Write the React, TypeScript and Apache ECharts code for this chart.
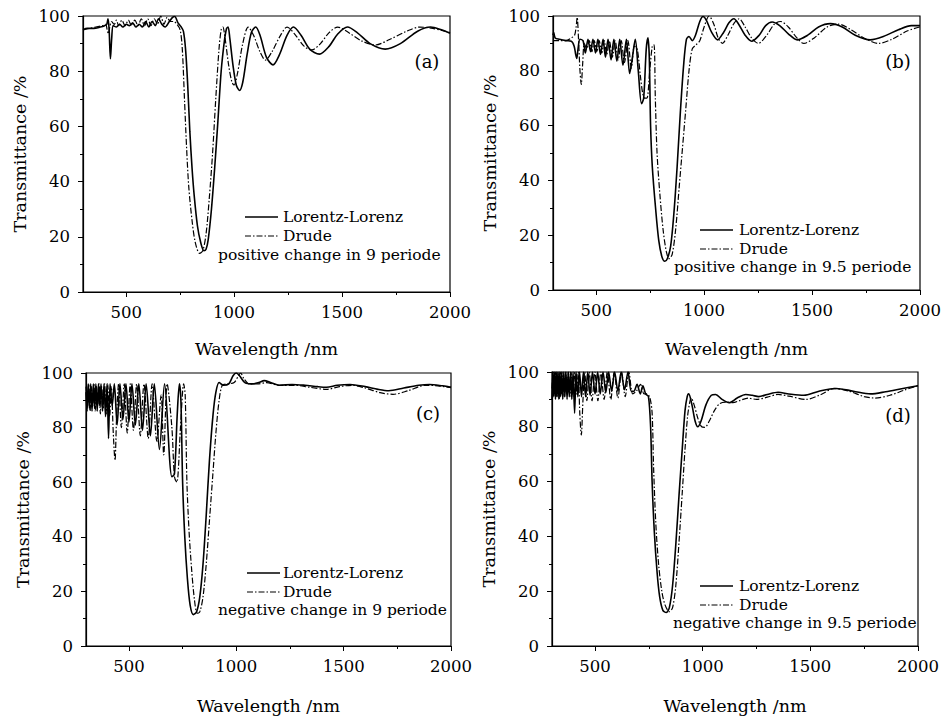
import React, { useEffect, useRef } from "react";
import * as echarts from "echarts";

const xTickValues = [500, 1000, 1500, 2000];
const xMinorTickValues = [750, 1250, 1750];
const panelLabels = ["(a)", "(b)", "(c)", "(d)"];
const captions = [
  "positive change in 9 periode",
  "positive change in 9.5 periode",
  "negative change in 9 periode",
  "negative change in 9.5 periode",
];
const seriesNames = ["Lorentz-Lorenz", "Drude"];

const aLorentz = [[300,95],[320,95.5],[350,95.5],[380,96],[400,96.5],[410,97],[416,99],[421,95],[427,84.5],[433,92],[440,96.5],[455,96],[470,97],[485,96],[500,97],[515,96.5],[530,97.5],[545,96],[560,97],[575,96],[590,98],[605,96],[620,98],[635,96.5],[650,99],[665,97],[680,96],[700,98],[715,99.5],[725,99.8],[740,97.5],[755,96],[765,94.5],[775,88],[785,75],[795,58],[805,45],[815,35],[830,24],[845,18],[860,15],[870,15.5],[880,19],[895,30],[910,45],[925,62],[940,80],[955,91],[965,95.5],[972,96],[980,92],[995,82],[1010,75],[1025,73],[1040,76],[1060,86],[1080,94],[1100,96],[1120,93],[1150,85],[1180,82.3],[1210,86],[1245,93],[1275,96],[1310,93],[1350,88],[1395,86.2],[1440,89],[1480,93.5],[1525,96],[1570,94],[1630,90],[1700,88],[1770,90],[1850,94.5],[1910,96],[1960,95],[2000,93.7]];
const aDrude = [[300,95],[330,95.5],[360,96],[390,96.5],[405,97],[412,95],[418,93.5],[424,96],[432,98],[445,97],[455,98.5],[465,96.5],[480,98.5],[495,96.5],[510,98.5],[525,96.5],[540,98.5],[555,96.5],[570,99],[585,96.5],[600,99],[615,96.5],[630,99],[645,97],[660,100],[675,97],[690,99.5],[705,98],[720,98],[735,97],[750,95],[760,88],[770,70],[780,52],[790,38],[805,26],[820,18],[840,14],[855,15],[870,21],[885,34],[900,50],[915,70],[930,88],[940,95],[948,96],[958,92],[975,82],[990,76],[1000,75],[1015,79],[1040,90],[1065,96],[1090,93],[1120,87],[1145,84],[1175,87],[1215,93],[1245,96],[1285,93],[1325,89],[1360,87.7],[1400,90],[1440,94],[1480,96],[1530,94],[1590,91],[1655,89.5],[1720,91.5],[1800,94.5],[1860,96],[1920,95.5],[2000,94]];

const bLorentz = [[300,93],[303,94],[310,92],[330,91.5],[360,91],[385,90.8],[398,89],[405,86],[410,84.5],[416,88],[425,91.5],[439,91],[450,86.5],[462,91.5],[474,87],[485,91.5],[497,86.5],[508,91.5],[520,86],[532,91.5],[543,85],[555,91.5],[569,84],[582,91.5],[596,83.5],[609,91.5],[624,82],[640,91.5],[655,79],[668,85],[681,91.5],[695,80],[710,68],[720,70],[732,88],[740,92],[746,85],[752,60],[760,45],[775,30],[790,18],[805,12],[818,10.5],[830,11.5],[845,16],[860,28],[875,45],[890,65],[905,82],[918,91.5],[930,92.5],[945,91],[960,93],[980,98],[995,99.8],[1010,98.5],[1035,94],[1062,91.3],[1090,94],[1115,97.5],[1138,99],[1160,97],[1190,93],[1220,90.8],[1255,93],[1285,96.5],[1315,97.8],[1350,96.5],[1390,93.5],[1431,91.3],[1480,93],[1530,96],[1585,97.2],[1640,96],[1700,93],[1769,91.3],[1830,92.5],[1900,95],[1960,96.5],[2000,96.5]];
const bDrude = [[300,91],[330,91],[360,91],[385,92],[400,93],[407,96],[412,99.5],[418,92],[425,80],[431,75],[437,82],[445,90],[456,88],[468,91],[480,87],[491,91],[503,87],[514,91],[526,86.5],[537,91],[549,86],[561,91],[575,85],[588,91],[602,84],[616,91],[631,83],[647,91],[663,81],[677,89],[690,88],[705,78],[715,72],[725,70],[735,70],[748,80],[760,89],[768,89.5],[774,70],[782,50],[795,35],[810,22],[825,14],[838,11.4],[852,13],[868,22],[885,38],[900,52],[915,66],[930,80],[945,88],[963,89.5],[980,91],[1000,96],[1023,100],[1045,97],[1065,92],[1085,90],[1110,93],[1140,97.5],[1162,99],[1190,96],[1220,92],[1251,90],[1290,93],[1325,97],[1354,98],[1390,96],[1430,92],[1462,90],[1510,92],[1570,96],[1623,97],[1680,95],[1740,92],[1808,90],[1870,91.5],[1940,94.5],[2000,96]];

const cLorentz = [[300,93],[305,86],[310,96],[316,87],[322,96],[328,86],[334,96],[340,87],[346,96],[352,86],[358,96],[364,88],[370,96],[377,86],[384,96],[391,84],[398,96],[405,76],[412,96],[422,88],[432,96],[445,81],[458,96],[472,83],[486,96],[500,82],[514,96],[530,81],[546,96],[563,79],[580,96],[600,77],[618,96],[642,72],[666,96],[700,62],[712,63],[725,85],[735,96],[742,90],[750,60],[760,40],[772,25],[785,15],[800,11.5],[815,12.5],[830,18],[845,30],[860,48],[875,68],[892,85],[905,93],[920,96.5],[940,95.5],[965,96],[985,99],[1000,100],[1015,99],[1040,96.5],[1075,96],[1105,96.5],[1130,97.2],[1160,96.5],[1200,95.5],[1260,95.8],[1320,95.5],[1380,95],[1420,94.8],[1470,95.5],[1530,95.8],[1600,95],[1660,94],[1710,93.5],[1780,94.5],[1850,95.5],[1900,95.8],[1960,95.3],[2000,94.8]];
const cDrude = [[300,95],[307,88],[313,96],[319,86],[325,95],[331,88],[337,96],[343,86],[349,95],[355,88],[361,96],[367,85],[373,95],[380,87],[387,96],[394,85],[401,96],[410,84],[418,95],[427,78],[435,68],[443,85],[452,96],[465,80],[478,96],[492,78],[506,96],[521,79],[536,96],[553,77],[570,96],[590,76],[608,96],[630,75],[650,92],[662,70],[678,96],[700,80],[712,62],[723,60],[740,80],[755,96],[762,92],[770,60],[780,42],[792,28],[805,17],[818,12],[830,12.5],[845,18],[860,30],[875,46],[890,62],[905,78],[920,90],[935,95.5],[960,96],[990,96.5],[1010,99],[1020,100],[1035,98],[1060,96],[1100,96],[1140,96.5],[1200,95.5],[1270,95.5],[1340,94.8],[1420,94],[1480,95],[1540,95.5],[1600,94.5],[1670,92.8],[1730,92.2],[1800,93.5],[1880,95.5],[1940,95.3],[2000,94.6]];

const dLorentz = [[300,90],[304,100],[308,91],[312,100],[316,90],[320,100],[324,91],[328,100],[332,90],[336,100],[340,91],[345,100],[350,90],[355,100],[360,91],[365,100],[370,90],[375,100],[380,91],[386,100],[392,90],[398,100],[405,85],[412,100],[420,91],[428,100],[437,91],[446,100],[456,91],[466,100],[477,91.5],[488,100],[500,92],[512,100],[524,92],[537,100],[550,92.5],[563,100],[577,93],[591,100],[606,93],[621,100],[637,93.5],[653,100],[668,93],[680,93],[695,95.5],[710,92],[722,95],[735,92],[748,91],[758,80],[765,60],[775,42],[788,27],[800,18],[815,13],[831,12.2],[845,14],[860,22],[875,37],[890,55],[905,72],[918,86],[928,91],[935,92],[950,88],[965,82],[977,80],[992,82],[1015,88],[1040,91.5],[1060,91.8],[1090,90],[1123,88.8],[1160,90.5],[1200,91.8],[1230,91.5],[1260,91],[1300,91.8],[1350,92.6],[1400,92],[1470,91.5],[1540,93],[1620,94],[1700,93],[1780,92],[1850,92.8],[1930,94],[2000,95]];
const dDrude = [[300,94],[306,100],[311,92],[317,100],[322,91],[328,100],[333,90],[339,100],[345,92],[351,100],[357,91],[363,100],[369,92],[376,100],[383,91],[390,100],[398,91],[406,100],[414,92],[422,100],[429,85],[436,77],[444,90],[452,100],[462,89.5],[473,100],[486,89.5],[499,100],[513,89.5],[527,100],[542,90],[557,100],[573,90],[589,100],[606,90.5],[623,100],[640,91],[657,100],[675,92],[692,93],[711,95.5],[728,92],[742,92],[755,90.5],[765,85],[772,65],[782,45],[795,30],[810,20],[825,15],[845,12.5],[860,14],[875,22],[890,38],[905,56],[918,72],[930,84],[940,89],[947,90.5],[960,88],[978,83],[995,80],[1010,79.8],[1030,82],[1055,86],[1080,88.5],[1110,89],[1140,88.8],[1170,89.5],[1210,90.5],[1250,90],[1300,90.8],[1350,91.8],[1400,91.2],[1480,90],[1550,91.8],[1610,94],[1680,93],[1750,91],[1800,90.5],[1870,91.5],[1940,93.5],[2000,95]];

const panelData = [
  [aLorentz, aDrude],
  [bLorentz, bDrude],
  [cLorentz, cDrude],
  [dLorentz, dDrude],
];

const FONT = "DejaVu Serif, Liberation Serif, serif";
const DASH = [6, 2, 1.5, 2];

// layout (pixels)
const grids = [
  { left: 83, top: 16, width: 367, height: 276 },
  { left: 553, top: 16, width: 367, height: 274 },
  { left: 86, top: 373, width: 365, height: 273 },
  { left: 552, top: 372, width: 366, height: 274 },
];
const xNameGaps = [48, 50, 51, 51];
const legendPos = [
  { lx: 245, ly: 217, tx: 283, cx: 218, cy: 255, px: 427, py: 61 },
  { lx: 700, ly: 230, tx: 739, cx: 674, cy: 267, px: 898, py: 61 },
  { lx: 247, ly: 573, tx: 283, cx: 218, cy: 610, px: 428, py: 413 },
  { lx: 700, ly: 586, tx: 739, cx: 673, cy: 623, px: 898, py: 415 },
];

export default function App() {
  const ref = useRef<HTMLDivElement>(null);
  useEffect(() => {
    if (!ref.current) return;
    const chart = echarts.init(ref.current, null, { renderer: "svg" });
    const textStyle = { color: "#000", fontFamily: FONT, fontSize: 16.5 };
    const xAxis: any[] = [];
    const yAxis: any[] = [];
    const series: any[] = [];
    const graphic: any[] = [];
    grids.forEach((g, i) => {
      xAxis.push({
        type: "value",
        gridIndex: i,
        min: 300,
        max: 2000,
        position: "bottom",
        axisLine: { show: true, onZero: false, lineStyle: { color: "#000", width: 1.2 } },
        axisTick: { show: true, customValues: xTickValues, length: 5, lineStyle: { color: "#000" } },
        axisLabel: { customValues: xTickValues, margin: 12, formatter: (v: number) => String(v), ...textStyle },
        splitLine: { show: false },
        name: "Wavelength /nm",
        nameLocation: "middle",
        nameGap: xNameGaps[i],
        nameTextStyle: { ...textStyle, fontSize: 17.5 },
      });
      xAxis.push({
        type: "value",
        gridIndex: i,
        min: 300,
        max: 2000,
        position: "bottom",
        axisLine: { show: false, onZero: false },
        axisTick: { show: true, customValues: xMinorTickValues, length: 3, lineStyle: { color: "#000" } },
        axisLabel: { show: false },
        splitLine: { show: false },
      });
      yAxis.push({
        type: "value",
        gridIndex: i,
        min: 0,
        max: 100,
        interval: 20,
        axisLine: { show: true, onZero: false, lineStyle: { color: "#000", width: 1.2 } },
        axisTick: { show: true, length: 5, lineStyle: { color: "#000" } },
        minorTick: { show: true, splitNumber: 2, length: 3, lineStyle: { color: "#000" } },
        axisLabel: { margin: 13, ...textStyle },
        splitLine: { show: false },
        name: "Transmittance /%",
        nameLocation: "middle",
        nameGap: 54,
        nameRotate: 90,
        nameTextStyle: { ...textStyle, fontSize: 17.5 },
      });
      const [ll, dr] = panelData[i];
      series.push({
        name: seriesNames[0],
        type: "line",
        xAxisIndex: i * 2,
        yAxisIndex: i,
        data: ll,
        showSymbol: false,
        symbol: "none",
        smooth: 0.3,
        lineStyle: { color: "#000", width: 1.6 },
        z: 3,
      });
      series.push({
        name: seriesNames[1],
        type: "line",
        xAxisIndex: i * 2,
        yAxisIndex: i,
        data: dr,
        showSymbol: false,
        symbol: "none",
        smooth: 0.3,
        lineStyle: { color: "#000", width: 1.2, type: DASH },
        z: 2,
      });
      const p = legendPos[i];
      const lf = `15.5px ${FONT}`;
      graphic.push(
        { type: "line", shape: { x1: p.lx, y1: p.ly, x2: p.lx + 33, y2: p.ly }, style: { stroke: "#000", lineWidth: 1.6 } },
        { type: "line", shape: { x1: p.lx, y1: p.ly + 19, x2: p.lx + 33, y2: p.ly + 19 }, style: { stroke: "#000", lineWidth: 1.2, lineDash: DASH } },
        { type: "text", x: p.tx, y: p.ly, style: { text: seriesNames[0], fill: "#000", font: lf, verticalAlign: "middle", align: "left" } },
        { type: "text", x: p.tx, y: p.ly + 19, style: { text: seriesNames[1], fill: "#000", font: lf, verticalAlign: "middle", align: "left" } },
        { type: "text", x: p.cx, y: p.cy, style: { text: captions[i], fill: "#000", font: lf, verticalAlign: "middle", align: "left" } },
        { type: "text", x: p.px, y: p.py, style: { text: panelLabels[i], fill: "#000", font: `18px ${FONT}`, verticalAlign: "middle", align: "center" } }
      );
    });
    chart.setOption({
      animation: false,
      backgroundColor: "#fff",
      grid: grids.map((g) => ({ ...g, show: true, borderColor: "#000", borderWidth: 1.2, backgroundColor: "transparent", containLabel: false })),
      xAxis,
      yAxis,
      series,
      graphic,
    });
    return () => chart.dispose();
  }, []);
  return (
    <div
      ref={ref}
      style={{ position: "fixed", left: 0, top: 0, width: 944, height: 719, background: "#fff" }}
    />
  );
}
